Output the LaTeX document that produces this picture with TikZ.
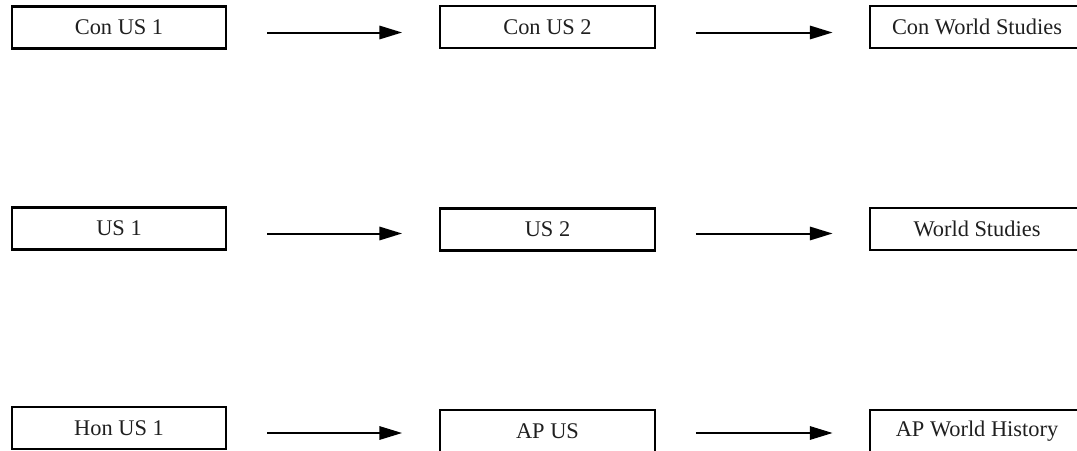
\documentclass[tikz,border=0pt]{standalone}
\usepackage{fontspec}
\setmainfont{Liberation Serif}
\usetikzlibrary{arrows.meta,calc}
\tikzset{
  box/.style={draw=black, line width=1.6pt, minimum width=161pt, minimum height=31.5pt, inner sep=0pt, text=black!88, font=\fontsize{16.8}{20}\selectfont},
  arr/.style={line width=1.5pt, -{Triangle[length=17pt,width=10pt]}}
}
\begin{document}
\begin{tikzpicture}[x=0.75pt,y=-0.75pt]
\useasboundingbox (0,0) rectangle (1077,450);
\clip (0,0) rectangle (1077,450);
% row 1
\node[box] (a1) at (119,27.5) {Con US 1};
\node[box] (b1) at (547.5,27) {Con US 2};
\node[box] (c1) at (977,27) {Con World Studies};
% row 2
\node[box] (a2) at (119,228.5) {US 1};
\node[box] (b2) at (547.5,229.5) {US 2};
\node[box] (c2) at (977,229) {World Studies};
% row 3
\node[box] (a3) at (119,428) {Hon US 1};
\node[box] (b3) at (547.5,431) {AP US};
\node[box] (c3) at (977,431) {AP World History};
% arrows
\foreach \r in {1,2,3}{
  \coordinate (s\r) at ($(a\r.east)+(40,5)$);
  \draw[arr, shorten >=37*0.75pt] (s\r) -- (s\r -| b\r.west);
  \coordinate (t\r) at ($(s\r -| b\r.east)+(40,0)$);
  \draw[arr, shorten >=36*0.75pt] (t\r) -- (t\r -| c\r.west);
}
\end{tikzpicture}
\end{document}
